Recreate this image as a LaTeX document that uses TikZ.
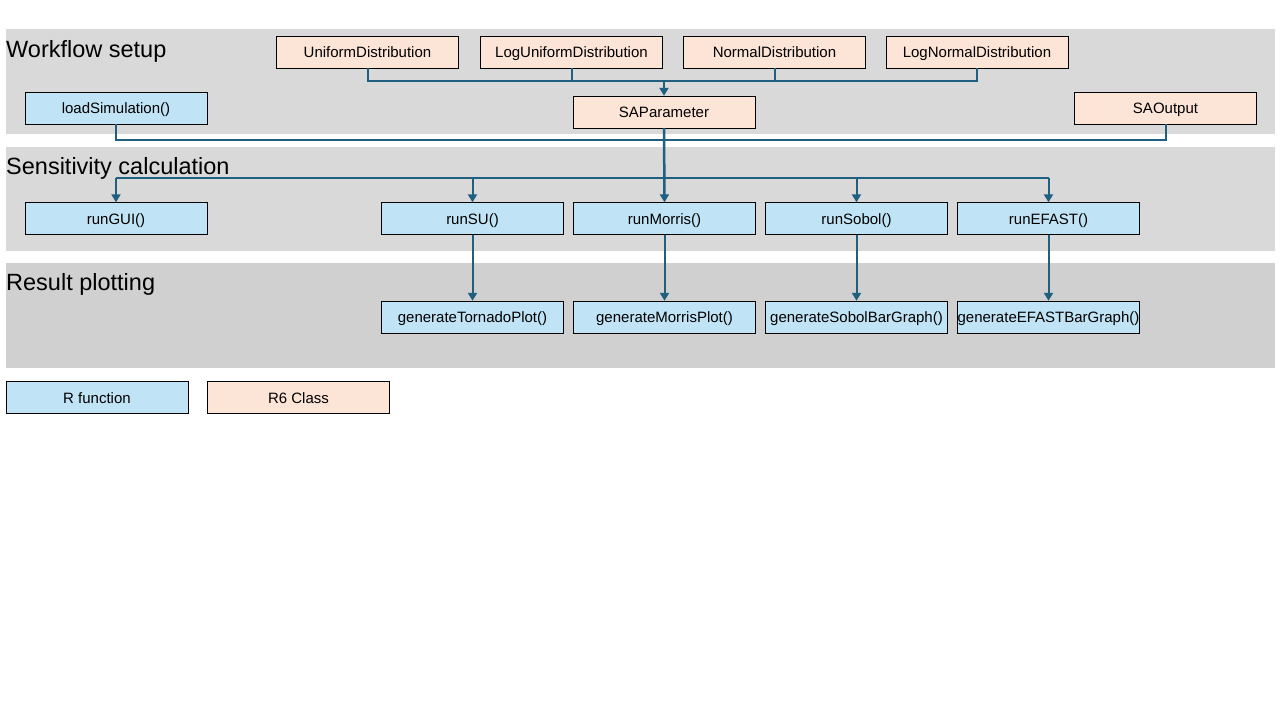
\documentclass[tikz,border=0pt]{standalone}
\usepackage{fontspec}
\setmainfont{Liberation Sans}
\usepackage{tikz}
\usetikzlibrary{arrows.meta}

\definecolor{funblue}{HTML}{C0E4F5}
\definecolor{classrose}{HTML}{FCE4D6}
\definecolor{bandgray}{HTML}{D9D9D9}
\definecolor{banddark}{HTML}{D0D0D0}
\definecolor{linkteal}{HTML}{1F5F80}

\begin{document}
\begin{tikzpicture}[
    x = 1pt, y = -1pt,
    every node/.style = {draw, minimum width = 182pt, minimum height = 32pt,
      inner sep = 0pt, text height = 12pt, text depth = 1pt,
      font = \fontsize{15}{18}\selectfont},
    rfun/.style = {fill = funblue},
    rclass/.style = {fill = classrose},
    title/.style = {draw = none, minimum width = 0pt, minimum height = 0pt,
      text height = {}, text depth = {}, anchor = base west,
      font = \fontsize{23.5}{28}\selectfont},
    link/.style = {draw = linkteal, line width = 2pt},
    feed/.style = {link, -{Triangle[width = 9pt, length = 8pt]}}
  ]
  \useasboundingbox (0,0) rectangle (1280,720);

  % Bands
  \fill[bandgray] (6,29)  rectangle (1275,134);
  \fill[bandgray] (6,147) rectangle (1275,251);
  \fill[banddark] (6,263) rectangle (1275,368);

  \node[title] (setup) at (6,57)  {Workflow setup};
  \node[title] (calc)  at (6,174) {Sensitivity calculation};
  \node[title] (plot)  at (6,290) {Result plotting};

  % Workflow setup
  \node[rclass] (uniform)    at (367.5,52) {UniformDistribution};
  \node[rclass] (loguniform) at (571.5,52) {LogUniformDistribution};
  \node[rclass] (normal)     at (774.5,52) {NormalDistribution};
  \node[rclass] (lognormal)  at (977,52)   {LogNormalDistribution};
  \node[rfun]   (loadsim)    at (116,108)  {loadSimulation()};
  \node[rclass] (saparam)    at (664,112)  {SAParameter};
  \node[rclass] (saoutput)   at (1165.5,108) {SAOutput};

  % Sensitivity calculation
  \node[rfun] (rungui)    at (116,218.5)   {runGUI()};
  \node[rfun] (runsu)     at (472.5,218.5) {runSU()};
  \node[rfun] (runmorris) at (664.5,218.5) {runMorris()};
  \node[rfun] (runsobol)  at (856.5,218.5) {runSobol()};
  \node[rfun] (runefast)  at (1048.5,218.5) {runEFAST()};

  % Result plotting
  \node[rfun] (plottornado) at (472.5,317)  {generateTornadoPlot()};
  \node[rfun] (plotmorris)  at (664.5,317)  {generateMorrisPlot()};
  \node[rfun] (plotsobol)   at (856.5,317)  {generateSobolBarGraph()};
  \node[rfun] (plotefast)   at (1048.5,317) {generateEFASTBarGraph()};

  % Legend
  \node[rfun]   (legfun)   at (97,397.5)    {R function};
  \node[rclass] (legclass) at (298.5,397.5) {R6 Class};

  % Connectors
  \coordinate (distbus) at (664,81);
  \coordinate (simbus)  at (0,140);
  \coordinate (runbus)  at (0,178);

  \draw[link] (uniform.south) |- (distbus) -| (lognormal.south);
  \draw[link] (loguniform.south) -- (loguniform.south |- distbus);
  \draw[link] (normal.south) -- (normal.south |- distbus);
  \draw[feed] (distbus) -- (saparam.north);

  \draw[link] (loadsim.south) |- (saoutput.south |- simbus)
    -- (saoutput.south);

  \draw[link] (rungui.north |- runbus) -- (runefast.north |- runbus);
  \draw[feed] (rungui.north |- runbus) -- (rungui.north);
  \draw[feed] (runsu.north |- runbus) -- (runsu.north);
  \draw[feed] (runsobol.north |- runbus) -- (runsobol.north);
  \draw[feed] (runefast.north |- runbus) -- (runefast.north);
  \draw[feed, line width = 2.5pt] (saparam.south) -- (runmorris.north);

  \draw[feed] (runsu.south) -- (plottornado.north);
  \draw[feed] (runmorris.south) -- (plotmorris.north);
  \draw[feed] (runsobol.south) -- (plotsobol.north);
  \draw[feed] (runefast.south) -- (plotefast.north);

\end{tikzpicture}
\end{document}
